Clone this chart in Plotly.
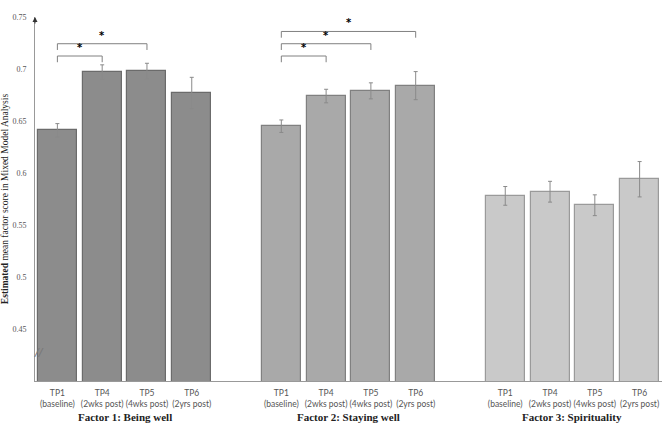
import plotly.graph_objects as go

# Estimated mean factor scores
factors = ['Factor 1: Being well', 'Factor 2: Staying well', 'Factor 3: Spirituality']
timepoints = ['TP1<br>(baseline)', 'TP4<br>(2wks post)', 'TP5<br>(4wks post)', 'TP6<br>(2yrs post)']

being_well = [0.641, 0.697, 0.698, 0.677]
being_well_err = [0.0065, 0.007, 0.0075, 0.015]
staying_well = [0.645, 0.674, 0.679, 0.684]
staying_well_err = [0.006, 0.0065, 0.0077, 0.0135]
spirituality = [0.578, 0.582, 0.569, 0.594]
spirituality_err = [0.009, 0.010, 0.010, 0.017]

# significant comparisons: (factor index, from timepoint, to timepoint)
comparisons = [(0, 0, 1), (0, 0, 2), (1, 0, 1), (1, 0, 2), (1, 0, 3)]

y_ticks = [0.45, 0.5, 0.55, 0.6, 0.65, 0.7, 0.75]

values = [being_well, staying_well, spirituality]
errors = [being_well_err, staying_well_err, spirituality_err]
fills = ['#8c8c8c', '#a9a9a9', '#c9c9c9']
edges = ['#6b6b6b', '#808080', '#9a9a9a']

serif = 'Liberation Serif'
sans = 'Lato'

def pos(g, i):
    return g * 5 + i

fig = go.Figure()
for g, name in enumerate(factors):
    fig.add_trace(go.Bar(
        x=[pos(g, i) for i in range(len(timepoints))],
        y=values[g],
        width=0.87,
        marker=dict(color=fills[g], line=dict(color=edges[g], width=1.2)),
        error_y=dict(type='data', array=errors[g], color='#8a8a8a', thickness=1, width=2),
        name=name,
        showlegend=False,
    ))

shapes = []
annotations = []

# significance brackets
base, step, drop = 0.7125, 0.0118, 0.006
level_count = {}
for g, a, b in comparisons:
    k = level_count.get(g, 0)
    level_count[g] = k + 1
    yl = base + k * step
    x0, x1 = pos(g, a), pos(g, b)
    shapes.append(dict(type='path', xref='x', yref='y',
                       path=f'M {x0},{yl - drop} L {x0},{yl} L {x1},{yl} L {x1},{yl - drop}',
                       line=dict(color='#808080', width=1)))
    annotations.append(dict(x=(x0 + x1) / 2, y=yl + 0.001, xref='x', yref='y', text='<b>*</b>',
                            showarrow=False, yanchor='bottom',
                            font=dict(family='DejaVu Sans', size=10, color='black')))

# factor labels
for g, name in enumerate(factors):
    annotations.append(dict(x=pos(g, 1.5), y=-0.1, xref='x', yref='paper', text=f'<b>{name}</b>',
                            showarrow=False, yanchor='middle',
                            font=dict(family=serif, size=11, color='#222')))

# arrow at top of the y axis
annotations.append(dict(x=0, y=0.75, xref='paper', yref='y', text='', showarrow=True,
                        ax=0, ay=8, arrowhead=2, arrowsize=1, arrowwidth=1, arrowcolor='#333'))
# axis break mark
annotations.append(dict(x=0, y=0.427, xref='paper', yref='y', text='<i>//</i>', showarrow=False,
                        xshift=-3, font=dict(family='DejaVu Sans', size=11, color='#777')))

fig.update_layout(
    width=669, height=429,
    margin=dict(l=35, r=7, t=17, b=48),
    plot_bgcolor='white', paper_bgcolor='white',
    bargap=0,
    shapes=shapes,
    annotations=annotations,
    xaxis=dict(range=[-0.5, 13.5],
               tickvals=[pos(g, i) for g in range(len(factors)) for i in range(len(timepoints))],
               ticktext=timepoints * len(factors),
               tickangle=0, automargin=False, ticklabelstandoff=4,
               tickfont=dict(family=sans, size=8.5, color='#555'),
               showline=True, linecolor='#999', linewidth=1, showgrid=False,
               zeroline=False, ticks=''),
    yaxis=dict(range=[0.4, 0.75], tickvals=y_ticks,
               ticktext=[f'{t:g}' for t in y_ticks],
               tickfont=dict(family=serif, size=8, color='#555'),
               ticklabelstandoff=6, automargin=False,
               showline=True, linecolor='#999', linewidth=1, showgrid=False,
               zeroline=False, ticks='',
               title=dict(text='<b>Estimated</b> mean factor score in Mixed Model Analysis',
                          font=dict(family=serif, size=9.5, color='#222'), standoff=6)),
)

fig.write_html('out.html', config={'displayModeBar': False},
               post_script="document.body.style.margin='0px';")
